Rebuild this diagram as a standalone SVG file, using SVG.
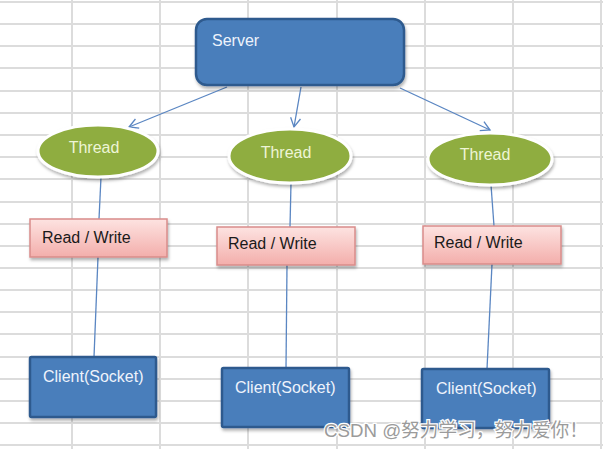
<svg xmlns="http://www.w3.org/2000/svg" width="603" height="449" viewBox="0 0 603 449">
<defs>
<style>
.grid line{stroke:#dcdcdc;stroke-width:2}
.blue{fill:#4a7ebb;stroke:#2d5a8e;stroke-width:2.5}
.thr{fill:#8fad3f;stroke:#ffffff;stroke-width:3}
.rw{fill:url(#pink);stroke:#d98c8a;stroke-width:1.5}
.conn line{stroke:#5a86c2;stroke-width:1.3;fill:none}
.arr{marker-end:url(#ah)}
.lt{font-family:"Liberation Sans",Arial,sans-serif;font-size:16px;fill:#eef3fb}
.tt{font-family:"Liberation Sans",Arial,sans-serif;font-size:16px;fill:#eef5d6}
.dt{font-family:"Liberation Sans",Arial,sans-serif;font-size:16px;fill:#1a1a1a}
.wm{font-family:"Liberation Sans","Noto Sans CJK SC",sans-serif;font-size:19px;fill:#9b9b9b;stroke:#ffffff;stroke-width:2.5;paint-order:stroke}
</style>
<linearGradient id="pink" x1="0" y1="0" x2="0" y2="1">
<stop offset="0" stop-color="#fde3e1"/>
<stop offset="1" stop-color="#f3aeab"/>
</linearGradient>
<filter id="sh" x="-20%" y="-20%" width="140%" height="150%">
<feDropShadow dx="1" dy="2.5" stdDeviation="1.8" flood-color="#000" flood-opacity="0.3"/>
</filter>
<marker id="ah" markerWidth="12" markerHeight="12" refX="10" refY="6" orient="auto" markerUnits="userSpaceOnUse">
<path d="M1,1 L10,6 L1,11" fill="none" stroke="#5a86c2" stroke-width="1.3"/>
</marker>
</defs>
<rect width="603" height="449" fill="#ffffff"/>
<g class="grid">
<line x1="0" y1="2" x2="603" y2="2"/>
<line x1="0" y1="24" x2="603" y2="24"/>
<line x1="0" y1="46" x2="603" y2="46"/>
<line x1="0" y1="68" x2="603" y2="68"/>
<line x1="0" y1="91" x2="603" y2="91"/>
<line x1="0" y1="113" x2="603" y2="113"/>
<line x1="0" y1="135" x2="603" y2="135"/>
<line x1="0" y1="157" x2="603" y2="157"/>
<line x1="0" y1="179" x2="603" y2="179"/>
<line x1="0" y1="202" x2="603" y2="202"/>
<line x1="0" y1="224" x2="603" y2="224"/>
<line x1="0" y1="246" x2="603" y2="246"/>
<line x1="0" y1="268" x2="603" y2="268"/>
<line x1="0" y1="290" x2="603" y2="290"/>
<line x1="0" y1="312" x2="603" y2="312"/>
<line x1="0" y1="334" x2="603" y2="334"/>
<line x1="0" y1="357" x2="603" y2="357"/>
<line x1="0" y1="379" x2="603" y2="379"/>
<line x1="0" y1="401" x2="603" y2="401"/>
<line x1="0" y1="423" x2="603" y2="423"/>
<line x1="0" y1="445" x2="603" y2="445"/>
<line x1="72" y1="0" x2="72" y2="449"/>
<line x1="160" y1="0" x2="160" y2="449"/>
<line x1="248" y1="0" x2="248" y2="449"/>
<line x1="337" y1="0" x2="337" y2="449"/>
<line x1="425" y1="0" x2="425" y2="449"/>
<line x1="513" y1="0" x2="513" y2="449"/>
<line x1="601" y1="0" x2="601" y2="449"/>
</g>
<g id="connectors" class="conn">
<line class="arr" x1="227" y1="87" x2="129" y2="127"/>
<line class="arr" x1="301" y1="87" x2="294" y2="127"/>
<line class="arr" x1="400" y1="88" x2="490" y2="130"/>
<line x1="101" y1="177" x2="99" y2="219"/>
<line x1="98" y1="257" x2="94" y2="357"/>
<line x1="291" y1="183" x2="290" y2="227"/>
<line x1="287" y1="265" x2="286" y2="368"/>
<line x1="491" y1="185" x2="494" y2="226"/>
<line x1="492" y1="264" x2="487" y2="369"/>
</g>
<g id="server">
<rect class="blue" x="196" y="19" width="208" height="66" rx="11" filter="url(#sh)"/>
<text class="lt" x="212" y="46">Server</text>
</g>
<g id="thread1">
<ellipse class="thr" cx="98" cy="151" rx="60" ry="26" filter="url(#sh)"/>
<text class="tt" x="94" y="153" text-anchor="middle">Thread</text>
</g>
<g id="thread2">
<ellipse class="thr" cx="290" cy="156" rx="61" ry="27" filter="url(#sh)"/>
<text class="tt" x="286" y="158" text-anchor="middle">Thread</text>
</g>
<g id="thread3">
<ellipse class="thr" cx="490" cy="159" rx="62" ry="26" filter="url(#sh)"/>
<text class="tt" x="485" y="160" text-anchor="middle">Thread</text>
</g>
<g id="rw1">
<rect class="rw" x="30" y="219" width="137" height="38" filter="url(#sh)"/>
<text class="dt" x="42" y="243">Read / Write</text>
</g>
<g id="rw2">
<rect class="rw" x="217" y="227" width="138" height="38" filter="url(#sh)"/>
<text class="dt" x="228" y="249">Read / Write</text>
</g>
<g id="rw3">
<rect class="rw" x="423" y="226" width="138" height="38" filter="url(#sh)"/>
<text class="dt" x="434" y="248">Read / Write</text>
</g>
<g id="client1">
<rect class="blue" x="30" y="357" width="126" height="60" rx="1.5" filter="url(#sh)"/>
<text class="lt" x="43" y="382">Client(Socket)</text>
</g>
<g id="client2">
<rect class="blue" x="222" y="368" width="127" height="59" rx="1.5" filter="url(#sh)"/>
<text class="lt" x="235" y="393">Client(Socket)</text>
</g>
<g id="client3">
<rect class="blue" x="422" y="369" width="127" height="59" rx="1.5" filter="url(#sh)"/>
<text class="lt" x="436" y="394">Client(Socket)</text>
</g>
<text class="wm" x="324" y="437" textLength="264" lengthAdjust="spacingAndGlyphs">CSDN @努力学习，努力爱你！</text>
</svg>
